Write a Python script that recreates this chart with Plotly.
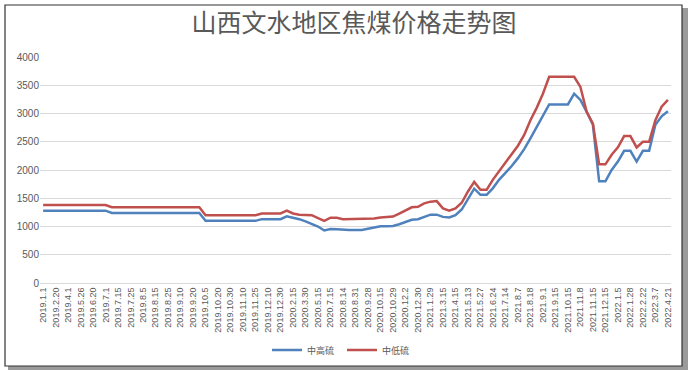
import plotly.graph_objects as go

tick_labels = [
    "2019.1.1", "2019.2.20", "2019.4.1", "2019.5.26", "2019.6.20", "2019.7.1", "2019.7.15",
    "2019.7.25", "2019.8.5", "2019.8.15", "2019.8.25", "2019.9.10", "2019.9.20", "2019.10.5",
    "2019.10.20", "2019.10.30", "2019.11.10", "2019.11.25", "2019.12.10", "2019.12.30",
    "2020.2.15", "2020.3.30", "2020.5.15", "2020.7.15", "2020.8.14", "2020.8.31", "2020.9.28",
    "2020.10.15", "2020.10.29", "2020.12.2", "2020.12.30", "2021.1.29", "2021.3.15",
    "2021.4.15", "2021.5.13", "2021.5.27", "2021.6.24", "2021.7.14", "2021.8.7", "2021.8.18",
    "2021.9.1", "2021.9.15", "2021.10.15", "2021.11.8", "2021.11.15", "2021.12.15",
    "2022.1.5", "2022.1.28", "2022.2.22", "2022.3.7", "2022.4.21",
]

high_sulfur = [
    1280, 1280, 1280, 1280, 1280, 1280, 1280, 1280, 1280, 1280, 1280,
    1240, 1240, 1240, 1240, 1240, 1240, 1240, 1240, 1240, 1240, 1240, 1240, 1240, 1240, 1240,
    1100, 1100, 1100, 1100, 1100, 1100, 1100, 1100, 1100,
    1130, 1130, 1130, 1130,
    1180, 1160, 1130, 1090, 1050, 1000, 930, 955, 950, 940, 940, 940, 940, 960, 985,
    1005, 1005, 1010, 1040, 1080, 1120, 1130, 1170, 1210, 1210, 1170, 1160, 1200, 1300,
    1490, 1670, 1560, 1560, 1680, 1830, 1950, 2070, 2210, 2370, 2560, 2760, 2980,
    3160, 3160, 3160, 3160, 3350, 3240, 3030, 2800, 1800, 1800, 2000, 2150, 2340, 2340,
    2150, 2340, 2340, 2800, 2950, 3040,
]

low_sulfur = [
    1380, 1380, 1380, 1380, 1380, 1380, 1380, 1380, 1380, 1380, 1380,
    1340, 1340, 1340, 1340, 1340, 1340, 1340, 1340, 1340, 1340, 1340, 1340, 1340, 1340, 1340,
    1200, 1200, 1200, 1200, 1200, 1200, 1200, 1200, 1200,
    1230, 1230, 1230, 1230,
    1280, 1230, 1210, 1210, 1200, 1150, 1100, 1155, 1155, 1130, 1130, 1130, 1130, 1130, 1140,
    1160, 1170, 1175, 1230, 1290, 1340, 1350, 1410, 1440, 1450, 1320, 1280, 1320, 1420,
    1620, 1790, 1650, 1650, 1830, 1980, 2130, 2290, 2430, 2620, 2880, 3100, 3350,
    3650, 3650, 3650, 3650, 3650, 3470, 3030, 2820, 2100, 2100, 2270, 2400, 2600, 2600,
    2400, 2500, 2500, 2880, 3120, 3240,
]

series_names = ["中高硫", "中低硫"]
title_text = "山西文水地区焦煤价格走势图"

W, H = 688, 370
L, R, T, B = 40, 671, 57, 283

def px(x):
    return (x - L) / (R - L)

def py(y):
    return (B - y) / (B - T)

idx = list(range(len(high_sulfur)))

fig = go.Figure()
fig.add_trace(go.Scatter(x=idx, y=high_sulfur, mode="lines", name=series_names[0],
                         line=dict(color="#4F81BD", width=2.5)))
fig.add_trace(go.Scatter(x=idx, y=low_sulfur, mode="lines", name=series_names[1],
                         line=dict(color="#C0504D", width=2.5)))

fig.update_layout(
    width=W, height=H,
    margin=dict(l=L, r=W - R, t=T, b=H - B, autoexpand=False),
    paper_bgcolor="white", plot_bgcolor="white",
    font=dict(family="Liberation Sans, Noto Sans CJK SC", color="#595959", size=10),
    title=dict(text=title_text, x=354 / W, xref="container", xanchor="center",
               y=1 - 23 / H, yref="container", yanchor="middle",
               font=dict(family="Noto Sans CJK SC", size=25, color="#595959")),
    showlegend=True,
    legend=dict(orientation="h", x=px(342), xanchor="center", y=py(350), yanchor="middle",
                font=dict(family="Noto Sans CJK SC", size=9, color="#595959"),
                bgcolor="rgba(0,0,0,0)", itemwidth=30, entrywidth=30,
                entrywidthmode="pixels"),
    xaxis=dict(range=[-0.5, len(idx) - 0.5], tickmode="array",
               tickvals=idx[::2], ticktext=tick_labels, tickangle=-90,
               tickfont=dict(size=9, color="#595959"), showgrid=False, automargin=False,
               showline=True, linecolor="#d9d9d9", ticks="", zeroline=False),
    yaxis=dict(range=[0, 4000], dtick=500, showgrid=True, gridcolor="#d9d9d9", gridwidth=1,
               tickfont=dict(size=10, color="#595959"), zeroline=False, ticks="",
               showline=False, automargin=False),
)

# chart frame
fig.add_shape(type="rect", xref="paper", yref="paper",
              x0=px(682), x1=px(688), y0=py(370), y1=py(8),
              fillcolor="#9a9a9a", line=dict(width=0), layer="above")
fig.add_shape(type="rect", xref="paper", yref="paper",
              x0=px(8), x1=px(688), y0=py(370), y1=py(366),
              fillcolor="#9a9a9a", line=dict(width=0), layer="above")
fig.add_shape(type="rect", xref="paper", yref="paper",
              x0=px(5), x1=px(682), y0=py(366), y1=py(5),
              line=dict(color="#333333", width=1.2), fillcolor="rgba(0,0,0,0)", layer="above")

fig.write_html("out.html", config={"displayModeBar": False},
               post_script="document.body.style.margin='0';document.body.style.overflow='hidden';")
